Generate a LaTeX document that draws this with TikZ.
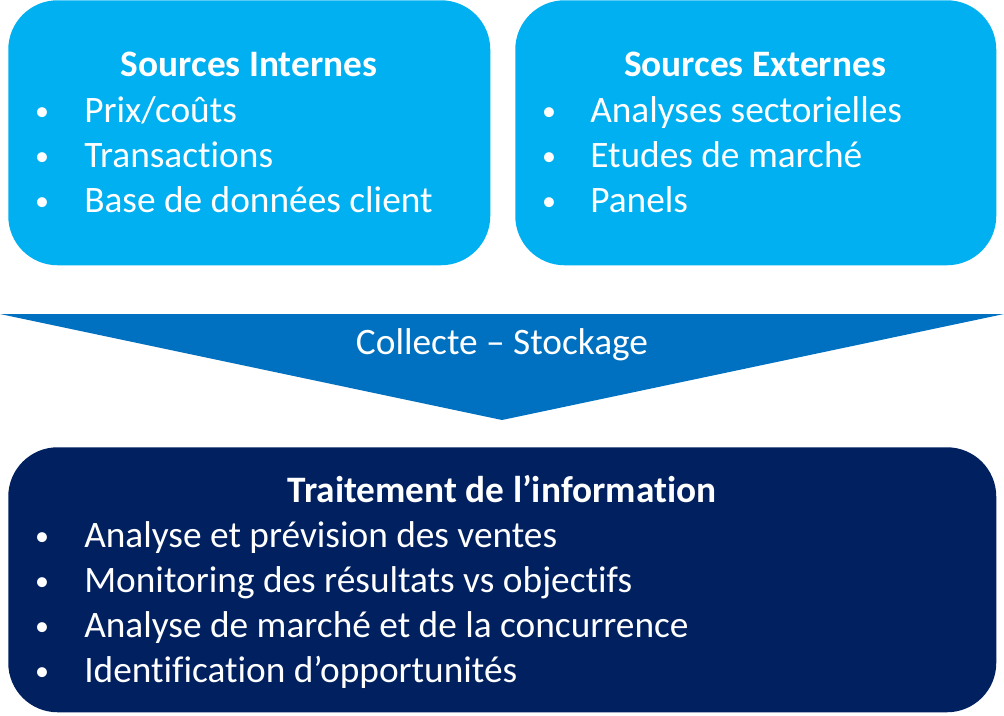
\documentclass[tikz,border=0pt]{standalone}
\usepackage{fontspec}
\setmainfont{Carlito}[RawFeature=-liga]
\usetikzlibrary{positioning}
\definecolor{clair}{HTML}{00B0F0}
\definecolor{moyen}{HTML}{0070C0}
\definecolor{fonce}{HTML}{002060}
\tikzset{bloc/.style = {rounded corners=37pt, inner sep=0pt, anchor=north west, minimum height=198.75pt}}
\tikzset{titre/.style = {text=white, inner sep=0pt, anchor=base, font=\fontsize{28}{33}\selectfont\bfseries}}
\tikzset{ligne/.style = {text=white, inner sep=0pt, anchor=base west, font=\fontsize{28}{33}\selectfont}}
\tikzset{puce/.style = {text=white, inner sep=0pt, anchor=base, font=\fontsize{21}{25}\selectfont}}

\begin{document}
\begin{tikzpicture}[x=0.75pt,y=-0.75pt]
        \useasboundingbox (0,0) rectangle (1004,715);
        % blocs
        \node[bloc, fill=clair, minimum width=361.5pt] (internes) at (8,0) {};
        \node[bloc, fill=clair, minimum width=360.75pt] (externes) at (515,0) {};
        \node[bloc, fill=fonce, minimum width=741pt, anchor=north west] (traitement) at (8,447) {};
        % fleche
        \coordinate (hg) at (0,314);
        \coordinate (hd) at (1004,314);
        \coordinate (pointe) at (502,420);
        \fill [moyen] (hg) -- (hd) -- (pointe) -- cycle;
        \node[titre, font=\fontsize{28}{33}\selectfont] (collecte) at (502,354) {Collecte – Stockage};
        % textes
        \node[titre] (tint) at (249,76) {Sources Internes};
        \foreach \txt [count=\i] in {Prix/coûts, Transactions, Base de données client} {
            \node[puce] (pint\i) at (42,75+45*\i) {•};
            \node[ligne] (lint\i) at (84,77+45*\i) {\txt};
        }
        \node[titre] (text) at (755,76) {Sources Externes};
        \foreach \txt [count=\i] in {Analyses sectorielles, Etudes de marché, Panels} {
            \node[puce] (pext\i) at (549,75+45*\i) {•};
            \node[ligne] (lext\i) at (590,77+45*\i) {\txt};
        }
        \node[titre] (ttrait) at (502,502) {Traitement de l’information};
        \foreach \txt [count=\i] in {Analyse et prévision des ventes, Monitoring des résultats vs objectifs, Analyse de marché et de la concurrence, Identification d’opportunités} {
            \node[puce] (ptrait\i) at (42,500+45*\i) {•};
            \node[ligne] (ltrait\i) at (84,502+45*\i) {\txt};
        }
    \end{tikzpicture}
\end{document}
